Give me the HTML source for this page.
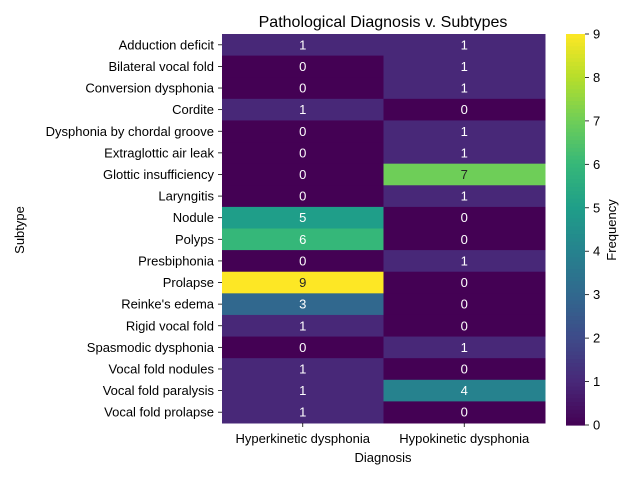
<!DOCTYPE html>
<html><head><meta charset="utf-8"><style>
body{margin:0;background:#fff;}
svg text{font-family:"Liberation Sans",Arial,sans-serif;}
</style></head><body>
<svg id="chart" width="640" height="480" xmlns="http://www.w3.org/2000/svg">
<text x="383" y="27" text-anchor="middle" font-size="16">Pathological Diagnosis v. Subtypes</text>
<g id="cells"></g><g id="ylabels"></g><g id="xlabels"></g><g id="cbar"></g>
<text x="383" y="462" text-anchor="middle" font-size="13">Diagnosis</text>
<text transform="translate(24,230) rotate(-90)" text-anchor="middle" font-size="13">Subtype</text>
<text transform="translate(616,230) rotate(-90)" text-anchor="middle" font-size="13">Frequency</text>
</svg>
<script>
const subtypes=["Adduction deficit","Bilateral vocal fold","Conversion dysphonia","Cordite","Dysphonia by chordal groove","Extraglottic air leak","Glottic insufficiency","Laryngitis","Nodule","Polyps","Presbiphonia","Prolapse","Reinke's edema","Rigid vocal fold","Spasmodic dysphonia","Vocal fold nodules","Vocal fold paralysis","Vocal fold prolapse"];
const diagnoses=["Hyperkinetic dysphonia","Hypokinetic dysphonia"];
const hyperkinetic=[1,0,0,1,0,0,0,0,5,6,0,9,3,1,0,1,1,1];
const hypokinetic=[1,1,1,0,1,1,7,1,0,0,1,0,0,0,1,0,4,0];
const cbTicks=[0,1,2,3,4,5,6,7,8,9];
const NS="http://www.w3.org/2000/svg";
const X0=222,X1=545,Y0=34,Y1=423,VMAX=9;
const cw=(X1-X0)/diagnoses.length, rh=(Y1-Y0)/subtypes.length;
const stops=[[68,1,84],[72,40,120],[62,74,137],[49,104,142],[38,130,142],[31,158,137],[53,183,121],[110,206,88],[181,222,43],[253,231,37]];
function vir(t){t=Math.max(0,Math.min(1,t))*(stops.length-1);const i=Math.min(Math.floor(t),stops.length-2),f=t-i;const a=stops[i],b=stops[i+1];return `rgb(${a.map((v,k)=>Math.round(v+(b[k]-v)*f)).join(',')})`;}
function lum(t){t=Math.max(0,Math.min(1,t))*(stops.length-1);const i=Math.min(Math.floor(t),stops.length-2),f=t-i;const c=stops[i].map((v,k)=>(v+(stops[i+1][k]-v)*f)/255).map(v=>v<=0.03928?v/12.92:Math.pow((v+0.055)/1.055,2.4));return 0.2126*c[0]+0.7152*c[1]+0.0722*c[2];}
function el(t,a,p,txt){const e=document.createElementNS(NS,t);for(const k in a)e.setAttribute(k,a[k]);if(txt!==undefined)e.textContent=txt;p.appendChild(e);return e;}
const cells=document.getElementById('cells');
const series=[hyperkinetic,hypokinetic];
series.forEach((vals,c)=>{vals.forEach((v,r)=>{
 const rect=el('rect',{x:X0+c*cw,y:Y0+r*rh,width:cw+0.5,height:rh+0.5,fill:vir(v/VMAX)},cells);
 
 
 const t=el('text',{x:X0+c*cw+cw/2,y:Y0+r*rh+rh/2+4.5,'text-anchor':'middle','font-size':13,fill:lum(v/VMAX)>0.408?'#262626':'#fff'},cells,String(v));
 
 
});});
const yl=document.getElementById('ylabels');
subtypes.forEach((s,r)=>{const y=Y0+r*rh+rh/2;
 el('line',{x1:X0-4,x2:X0,y1:y,y2:y,stroke:'#000','stroke-width':0.8},yl);
 const t=el('text',{x:X0-8,y:y+4.5,'text-anchor':'end','font-size':13},yl,s);
 
 });
const xl=document.getElementById('xlabels');
diagnoses.forEach((d,c)=>{const x=X0+c*cw+cw/2;
 el('line',{x1:x,x2:x,y1:Y1,y2:Y1+4,stroke:'#000','stroke-width':0.8},xl);
 const t=el('text',{x:x,y:Y1+20,'text-anchor':'middle','font-size':13},xl,d);
 
 });
const cb=document.getElementById('cbar');
const CX=566,CW=19,CB0=34,CB1=425,N=100;
for(let i=0;i<N;i++){const r=el('rect',{x:CX,y:CB1-(i+1)*(CB1-CB0)/N,width:CW,height:(CB1-CB0)/N+0.6,fill:vir((i+0.5)/N)},cb);
 
 }
cbTicks.forEach(v=>{const y=CB1-v/VMAX*(CB1-CB0);
 el('line',{x1:CX+CW,x2:CX+CW+4,y1:y,y2:y,stroke:'#000','stroke-width':0.8},cb);
 const t=el('text',{x:CX+CW+8,y:y+4.5,'font-size':13},cb,String(v));
 
 });
</script>
</body></html>
